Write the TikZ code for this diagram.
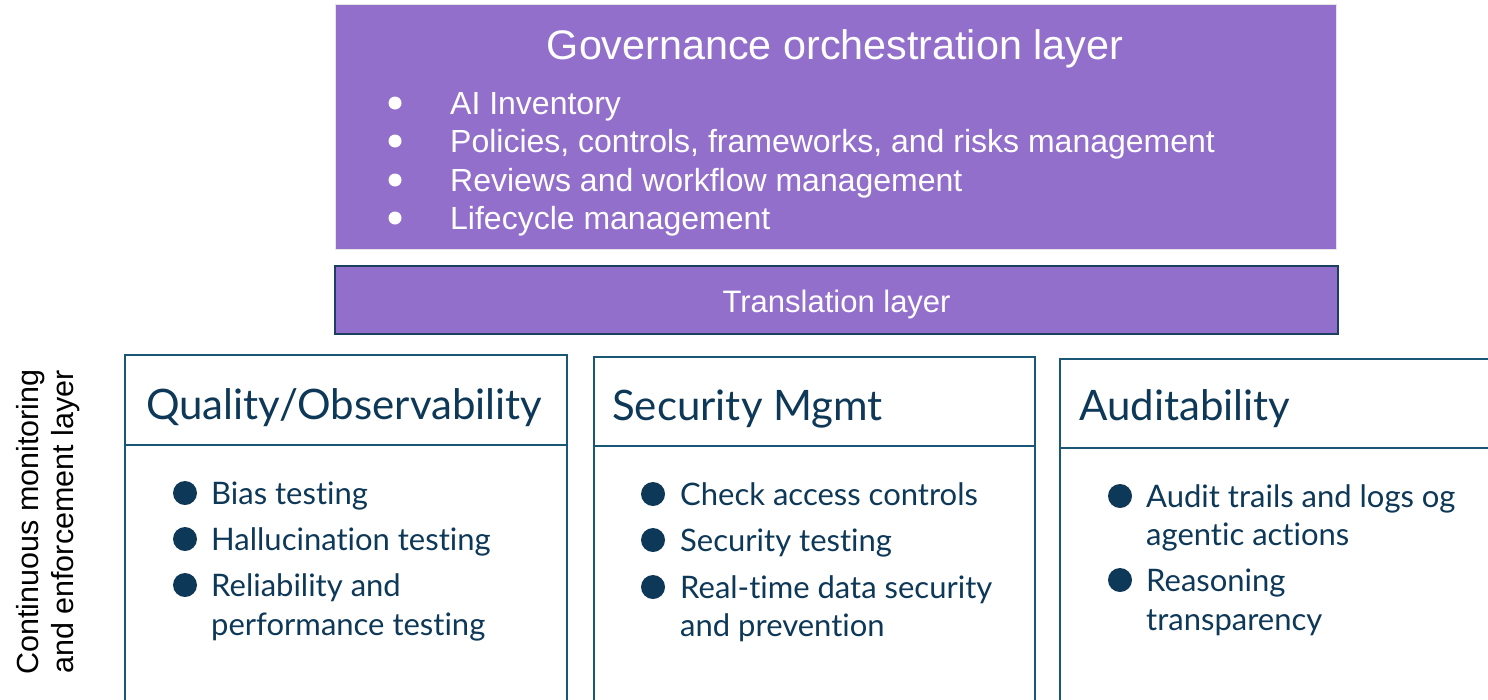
\documentclass[tikz,border=0pt]{standalone}
\usepackage{fontspec}
\setmainfont{Liberation Sans}
\newfontfamily\colfont[Ligatures={NoCommon,NoContextual}]{Lato}
\definecolor{govpurple}{RGB}{147,111,204}
\definecolor{navyline}{RGB}{28,64,98}
\definecolor{tealline}{RGB}{26,86,118}
\definecolor{inknavy}{RGB}{14,56,88}
\begin{document}
\begin{tikzpicture}[x=1pt,y=-1pt,
  govbox/.style={fill=govpurple,draw=black!10,line width=1pt,anchor=north west,inner sep=0pt},
  transbox/.style={fill=govpurple,draw=navyline,line width=2.2pt,anchor=north west,inner sep=0pt},
  colbox/.style={draw=tealline,line width=1.8pt,anchor=north west,inner sep=0pt},
  whitetxt/.style={text=white,inner sep=0pt,anchor=base west,font=\fontsize{32}{38}\selectfont},
  coltitle/.style={text=inknavy,inner sep=0pt,anchor=base west,font=\colfont\fontsize{42}{50}\selectfont},
  colitem/.style={text=inknavy,inner sep=0pt,anchor=base west,font=\colfont\fontsize{31}{39}\selectfont,align=left},
  dot/.style={circle,fill=inknavy,inner sep=0pt,minimum size=24pt},
  wdot/.style={circle,fill=white,inner sep=0pt,minimum size=13pt}]
\useasboundingbox (0,0) rectangle (1488,699);
\clip (0,0) rectangle (1488,699);

% governance orchestration layer
\node[govbox,minimum width=1001pt,minimum height=245pt] (gov) at (335,4) {};
\node[text=white,inner sep=0pt,font=\fontsize{41.3}{48}\selectfont,anchor=base] (govtitle) at (835,59) {Governance orchestration layer};
\node[wdot] (g1) at (395,103) {};
\node[whitetxt] (gt1) at (450,114) {AI Inventory};
\node[wdot] (g2) at (395,141) {};
\node[whitetxt] (gt2) at (450,152) {Policies, controls, frameworks, and risks management};
\node[wdot] (g3) at (395,180) {};
\node[whitetxt] (gt3) at (450,191) {Reviews and workflow management};
\node[wdot] (g4) at (395,218) {};
\node[whitetxt] (gt4) at (450,229) {Lifecycle management};

% translation layer
\node[transbox,minimum width=1003pt,minimum height=68pt] (trans) at (334,265) {};
\node[text=white,inner sep=0pt,font=\fontsize{31}{36}\selectfont,anchor=base] (transtxt) at ([yshift=-12pt]trans.center) {Translation layer};

% side label
\node[rotate=90,align=center,inner sep=0pt,font=\fontsize{30.5}{35}\selectfont] (side) at (48,522) {Continuous monitoring\\and enforcement layer};

% column 1
\node[colbox,minimum width=442pt,minimum height=400pt] (c1) at (124,354) {};
\draw[draw=tealline,line width=1.8pt] (124,445) -- (566,445);
\node[coltitle] (c1t) at (146,419) {Quality/Observability};
\node[dot] (c1d1) at (185,493) {};
\node[colitem] (c1i1) at (211,504) {Bias testing};
\node[dot] (c1d2) at (185,539) {};
\node[colitem] (c1i2) at (211,550) {Hallucination testing};
\node[dot] (c1d3) at (185,585) {};
\node[colitem] (c1i3) at (211,596) {Reliability and};
\node[colitem] (c1i4) at (211,635) {performance testing};

% column 2
\node[colbox,minimum width=441pt,minimum height=400pt] (c2) at (593,356) {};
\draw[draw=tealline,line width=1.8pt] (593,446) -- (1034,446);
\node[coltitle] (c2t) at (612,420) {Security Mgmt};
\node[dot] (c2d1) at (653,494) {};
\node[colitem] (c2i1) at (680,505) {Check access controls};
\node[dot] (c2d2) at (653,540) {};
\node[colitem] (c2i2) at (680,551) {Security testing};
\node[dot] (c2d3) at (653,587) {};
\node[colitem] (c2i3) at (680,598) {Real-time data security};
\node[colitem] (c2i4) at (680,636) {and prevention};

% column 3
\node[colbox,minimum width=460pt,minimum height=400pt] (c3) at (1059,358) {};
\draw[draw=tealline,line width=1.8pt] (1059,448) -- (1500,448);
\node[coltitle] (c3t) at (1079,420) {Auditability};
\node[dot] (c3d1) at (1120,496) {};
\node[colitem] (c3i1) at (1146,507) {Audit trails and logs og};
\node[colitem] (c3i2) at (1146,545) {agentic actions};
\node[dot] (c3d2) at (1120,580) {};
\node[colitem] (c3i3) at (1146,591) {Reasoning};
\node[colitem] (c3i4) at (1146,630) {transparency};
\end{tikzpicture}
\end{document}
